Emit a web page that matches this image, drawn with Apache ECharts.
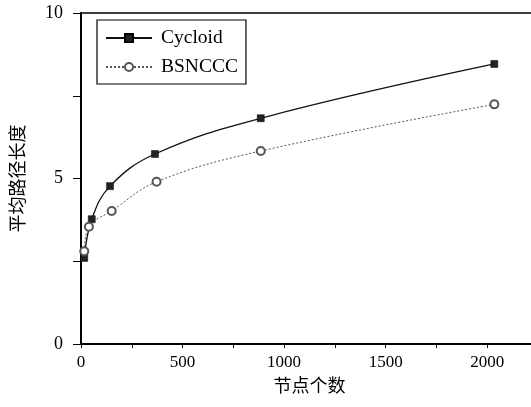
<!DOCTYPE html>
<html>
<head>
<meta charset="utf-8">
<script src="https://cdn.jsdelivr.net/npm/echarts@6/dist/echarts.min.js"></script>
<style>
  html, body { margin: 0; padding: 0; background: #fff; }
  #chart { width: 531px; height: 407px; }
</style>
</head>
<body>
<div id="chart"></div>
<script>
(function(){

    // 数据
    var cycloidX = [16, 53, 143, 364, 885, 2035];
    var cycloidY = [2.6, 3.77, 4.77, 5.74, 6.82, 8.46];
    var bsncccX = [16, 39, 151, 372, 885, 2035];
    var bsncccY = [2.8, 3.54, 4.02, 4.9, 5.83, 7.24];
    var xTickLabels = [0, 500, 1000, 1500, 2000];
    var yTickLabels = [0, 5, 10];

    function pairs(xs, ys) {
        return xs.map(function (x, i) { return [x, ys[i]]; });
    }

    var serif = '"Liberation Serif", "DejaVu Serif", serif';
    var cjk = '"Noto Sans CJK SC", sans-serif';

    var option = {
        animation : false,
        backgroundColor : '#ffffff',
        grid : {
            left : 81,
            top : 13,
            right : -7,
            bottom : 63,
            outerBoundsMode : 'none',
            show : true,
            borderColor : '#000',
            borderWidth : 1.5
        },
        legend : {
            left : 97,
            top : 20,
            orient : 'vertical',
            itemWidth : 46,
            itemHeight : 10,
            itemGap : 9,
            padding : [8, 8, 7, 8],
            borderColor : '#000',
            borderWidth : 1.2,
            backgroundColor : '#fff',
            textStyle : {
                fontFamily : serif,
                fontSize : 19.5,
                color : '#000',
                padding : [0, 0, 0, 4]
            },
            data : ['Cycloid', 'BSNCCC']
        },
        xAxis : {
            type : 'value',
            min : 0,
            max : 2250,
            interval : 250,
            name : '节点个数',
            nameLocation : 'middle',
            nameGap : 31,
            nameTextStyle : {
                fontFamily : cjk,
                fontSize : 18,
                color : '#000'
            },
            axisLine : { lineStyle : { color : '#000', width : 2 } },
            axisTick : { length : 4, lineStyle : { color : '#000', width : 1 } },
            splitLine : { show : false },
            axisLabel : {
                margin : 10,
                fontFamily : serif,
                fontSize : 17,
                color : '#000',
                formatter : function (v) {
                    return xTickLabels.indexOf(v) >= 0 ? String(v) : '';
                }
            }
        },
        yAxis : {
            type : 'value',
            min : 0,
            max : 10,
            interval : 2.5,
            name : '平均路径长度',
            nameLocation : 'middle',
            nameRotate : 90,
            nameGap : 55,
            nameTextStyle : {
                fontFamily : cjk,
                fontSize : 18,
                color : '#000'
            },
            axisLine : { lineStyle : { color : '#000', width : 2 } },
            axisTick : { length : 8, lineStyle : { color : '#000', width : 1 } },
            splitLine : { show : false },
            axisLabel : {
                margin : 18,
                fontFamily : serif,
                fontSize : 18,
                color : '#000',
                formatter : function (v) {
                    return yTickLabels.indexOf(v) >= 0 ? String(v) : '';
                }
            }
        },
        series : [
            {
                name : 'Cycloid',
                type : 'line',
                smooth : 0.4,
                data : pairs(cycloidX, cycloidY),
                symbol : 'rect',
                symbolSize : 7,
                itemStyle : { color : '#222', borderColor : '#000', borderWidth : 0.5 },
                lineStyle : { color : '#111', width : 1.3, type : 'solid' }
            },
            {
                name : 'BSNCCC',
                type : 'line',
                smooth : 0.4,
                data : pairs(bsncccX, bsncccY),
                symbol : 'emptyCircle',
                symbolSize : 8,
                itemStyle : { color : '#555', borderColor : '#555', borderWidth : 1 },
                lineStyle : { color : '#555', width : 1, type : [2, 2] }
            }
        ]
    };

    var myChart = echarts.init(document.getElementById('chart'));
    myChart.setOption(option);

})();
</script>
</body>
</html>
